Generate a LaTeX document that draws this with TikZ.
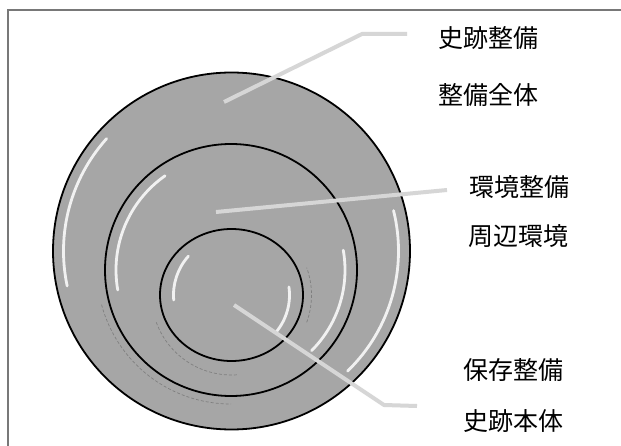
\documentclass[tikz,border=0pt]{standalone}
\usepackage{fontspec}
\newfontfamily\jpfont{Noto Sans CJK JP}
\definecolor{ringfill}{RGB}{166,166,166}
\definecolor{leader}{RGB}{214,214,214}
\definecolor{framecol}{RGB}{120,120,120}
\begin{document}
\begin{tikzpicture}[x=1pt,y=-1pt,
  ring/.style={draw=black,line width=1.8pt,fill=ringfill},
  shine/.style={draw=white,line width=2.8pt,line cap=round,opacity=0.85},
  shadowdots/.style={draw=black!60,line width=0.7pt,densely dashed,opacity=0.6},
  leaderline/.style={draw=leader,line width=4pt},
  lbl/.style={font=\jpfont\fontsize{25}{29}\selectfont,inner sep=0pt}]
\useasboundingbox (0,0) rectangle (621,446);
\fill[white] (0,0) rectangle (621,446);
% frame
\coordinate (ftl) at (8,10);
\coordinate (ftr) at (621,10);
\coordinate (fbl) at (8,446);
\draw[framecol,line width=1.2pt] (fbl) -- (ftl) -- (ftr);
% centres
\coordinate (co) at (231.5,251);
\coordinate (cm) at (231,270);
\coordinate (ci) at (231.5,295);
% outer ring
\path[ring] (co) circle[radius=178.5];
\draw[shine] (co) ++(222:168) arc[start angle=222,end angle=168,radius=168];
\draw[shine] (co) ++(-14:167) arc[start angle=-14,end angle=46,radius=167];
\draw[shadowdots] (cm) ++(165:134) arc[start angle=165,end angle=90,radius=134];
% middle ring
\path[ring] (cm) circle[radius=126];
\draw[shine] (cm) ++(235:115) arc[start angle=235,end angle=170,radius=115];
\draw[shine] (cm) ++(-10:114) arc[start angle=-10,end angle=45,radius=114];
\draw[shadowdots] (ci) ++(160:80) arc[start angle=160,end angle=85,radius=80];
\draw[shadowdots] (ci) ++(20:80) arc[start angle=20,end angle=-20,radius=80];
% inner ring
\path[ring] (ci) ellipse[x radius=71.5, y radius=66];
\draw[shine] (ci) ++(222:58) arc[start angle=222,end angle=175,radius=58];
\draw[shine] (ci) ++(-8:58) arc[start angle=-8,end angle=40,radius=58];
% labels
\node[lbl] (t1) at (488,38) {史跡整備};
\node[lbl] (s1) at (488,95) {整備全体};
\node[lbl] (t2) at (519,187) {環境整備};
\node[lbl] (s2) at (518,236) {周辺環境};
\node[lbl] (t3) at (513,370) {保存整備};
\node[lbl] (s3) at (513,421) {史跡本体};
% leader lines
\coordinate (p1) at (224,102);
\coordinate (k1) at (362,34);
\coordinate (e1) at (407,34);
\coordinate (p2) at (216,212);
\coordinate (e2) at (447,190);
\coordinate (p3) at (234,305);
\coordinate (k3) at (384,405);
\coordinate (e3) at (417,406);
\draw[leaderline] (p1) -- (k1) -- (e1);
\draw[leaderline] (p2) -- (e2);
\draw[leaderline] (p3) -- (k3) -- (e3);
\end{tikzpicture}
\end{document}
